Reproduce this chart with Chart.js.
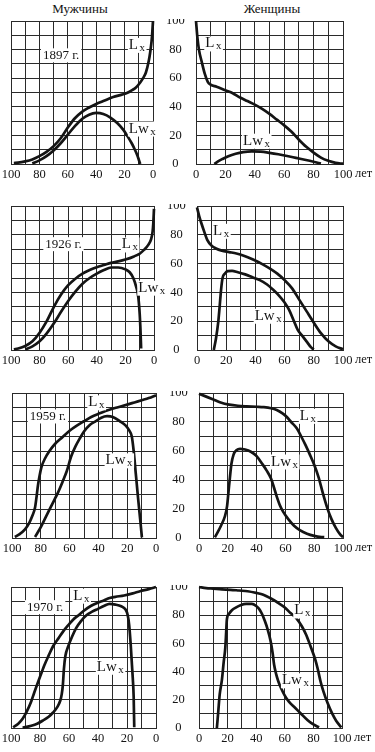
<!DOCTYPE html>
<html><head><meta charset="utf-8">
<script src="https://cdn.jsdelivr.net/npm/chart.js@4"></script>
<style>
html,body{margin:0;padding:0;background:#fff;}
body{width:375px;height:752px;position:relative;overflow:hidden;font-family:"Liberation Serif",serif;}
.ttl{position:absolute;font-size:13px;color:#111;transform:translateX(-50%);white-space:nowrap;line-height:14px;}
canvas{position:absolute;}
</style></head><body>
<div class="ttl" style="left:80px;top:2px">Мужчины</div>
<div class="ttl" style="left:272px;top:2px">Женщины</div>
<script>
// ---- tick labels / categories ----
const ageTicks = [0, 20, 40, 60, 80, 100];
const valueTicks = [0, 20, 40, 60, 80, 100];
const years = ['1897 г.', '1926 г.', '1959 г.', '1970 г.'];
const unitLabel = 'лет';

// ---- series: [age, value] ----
const men1897Lx = [[0,100],[0.5,92],[1,86],[2,78],[3,72],[5,64],[7,60],[9,57],[12,53.5],[15,51.5],[18,49.8],[22,48.5],[28,46.8],[35,44],[40,42],[45,39.5],[50,36.5],[55,32],[60,25.5],[65,18],[70,12.5],[75,8.5],[80,5.5],[85,3.2],[90,1.8],[95,0.9],[98,0.7]];
const men1897Lw = [[9,0],[10,3],[11,6],[13,10.5],[15,14.5],[18,19.5],[21,24],[25,28.5],[30,32.5],[35,35],[40,35.7],[45,34.5],[50,31.5],[55,26.5],[60,20.5],[65,14.5],[70,9.5],[75,5.5],[80,2.5],[85,0.3]];
const women1897Lx = [[0,100],[1,88],[2,80],[4,71],[6,63],[8,57.5],[10,55.5],[14,54],[20,51.5],[25,49.5],[30,46.5],[35,44],[40,41.5],[45,38.5],[50,35],[55,31],[60,27],[65,22.5],[70,17],[75,12],[80,8],[85,4.5],[90,2.2],[95,0.8],[100,0.2]];
const women1897Lw = [[12.5,0],[15,1.8],[18,3.5],[22,5.5],[27,7.2],[32,8.3],[38,8.8],[44,8.6],[50,7.8],[56,6.8],[62,5.6],[68,4.3],[74,3],[80,1.6],[85,0.3]];

const men1926Lx = [[0,98],[0.5,88],[1,82],[2,77],[4,73],[7,69.5],[10,67],[14,65],[20,62.8],[25,61.5],[30,60.5],[35,59],[40,57.5],[45,55.5],[50,53],[55,49.5],[60,45],[65,38.5],[70,30],[75,20],[80,12],[85,6],[90,2.8],[95,1],[98,0.4]];
const men1926Lw = [[9,1],[9.5,15],[10,25],[11,37],[12.5,44],[14.5,50],[17,54],[20,56],[25,57.3],[30,57.3],[35,55.5],[40,53],[45,50],[50,46],[55,40.5],[60,34],[65,26.5],[70,18.5],[75,11.5],[80,6],[85,2.5],[90,0.5]];
const women1926Lx = [[0,99],[1.5,93],[3,88],[5,82],[7,76.5],[10,72.5],[13,70.5],[17,69],[22,68],[27,67],[32,65.5],[38,63],[45,59.5],[50,56.5],[55,53],[60,48.5],[65,43],[70,35],[75,27],[80,19],[85,11.5],[90,6],[95,2.5],[100,0.5]];
const women1926Lw = [[11.5,0],[13,8],[14.5,19],[15.5,30],[16.5,42],[17.5,50],[19,53],[21,54.8],[24,55],[28,54],[33,52.5],[38,50.5],[43,48.5],[48,45.5],[52,42],[56,38],[60,33],[63,28],[66,21],[69,14],[72,10],[75,6],[78,2],[80,0.3]];

const men1959Lx = [[0,98.5],[5,96.5],[10,95],[15,93.5],[20,92],[27,90],[33,88.3],[39,86],[45,83.5],[50,80.5],[55,77.5],[60,74],[65,69.5],[70,65],[74,60],[77,55],[79.5,49],[81,42],[82,36],[83,28],[84,21],[86,15],[88,10.5],[91,6],[95,2.5],[98,0.7]];
const men1959Lw = [[9.8,0.5],[11,13],[12.5,28],[14,44],[15.5,60],[16.8,70],[18.5,74],[21,77.5],[25,80.5],[30,83.5],[34,84],[38,83],[42,80.5],[46,78],[50,73.5],[53,68.5],[56,63],[59,56],[62,46],[65,38.5],[68,31.5],[71,25.5],[74,19.5],[77,13.5],[80,7.5],[84,0.7]];
const women1959Lx = [[0,99.5],[5,97.5],[10,95.5],[15,93.5],[21,92],[27,91.2],[33,90.8],[40,90.5],[45,90.2],[50,89.5],[54,88.3],[58,86],[61,83.5],[64,80],[68,75.5],[71,70],[74,64],[77,57.5],[80,50.5],[83,42],[86,31],[89,21],[92,13],[95,7],[98,2.5],[100,0.5]];
const women1959Lw = [[11,0.5],[13,4],[15.5,9],[18,15],[19.5,22],[20.5,32],[21.5,42],[22.5,51],[24,57.5],[26,60.5],[28.5,61.5],[32,61],[36,59.5],[40,56.5],[44,51],[47,46.5],[50,41],[52,35],[54,28.5],[56,23],[58.5,18],[62,13],[66,8.5],[70,5.5],[75,3],[80,1.5],[85,0.7],[87,0.6]];

const men1970Lx = [[0,100],[5,98.5],[11,97],[16,95.5],[22,94],[28,93],[32,92.2],[36,90.5],[41,88.5],[45,86.5],[50,83],[54,79.5],[57,77],[60,73.5],[64,68.5],[67,64],[71,58],[74,51.5],[77,44.5],[79,39],[81,33.5],[84,25],[86,19],[89,12],[92,6.5],[95,3],[98.5,0.5]];
const men1970Lw = [[15,0.5],[15.4,22],[16,35],[16.6,45],[17.5,60],[18.5,73],[19.5,80],[21,84],[24,86.3],[28,87.5],[32,88],[36,86.5],[40,84.5],[44,82.5],[48,80],[52,75.5],[55,71],[58,64.5],[60.5,58],[62.5,51],[63.5,42],[64.2,31],[65,24],[66,19.5],[68,15],[71,11],[74,8],[78,5.3],[82,3],[86,1.6],[92,0.2]];
const women1970Lx = [[0,100],[5,99.2],[10,98.8],[16,98.3],[22,98],[28,97.5],[34,97],[40,95.8],[45,94.5],[50,92],[55,89],[60,85.5],[64,81.5],[68,78],[72,72],[75,66],[78,58],[81,49.5],[83,42],[85,33],[87,26],[90,17.5],[93,10.5],[96,5],[99.5,0.5]];
const women1970Lw = [[12.5,0],[13.5,12],[14.5,24],[16,34],[17.3,47],[18.4,57],[19,68],[19.5,77],[21,81],[23,83.5],[26,85.5],[29,87],[33,88],[37,88],[40,86.5],[42,84.5],[44,81],[46,76],[48,70],[50,62],[51.5,53],[52.5,45],[54,38],[55.5,33],[57.5,28],[60,23],[63,18.5],[67,14.5],[71,10.5],[76,5.5],[80,2.5],[84,0.5]];

// ---- layout (pixels) ----
const rowGeom = [
  {plotTop:21,  plotBottom:164, men:[11,153], women:[196,343]},
  {plotTop:206, plotBottom:350, men:[11,154], women:[197,343]},
  {plotTop:393, plotBottom:538, men:[12,156], women:[199,343]},
  {plotTop:587, plotBottom:728, men:[11,156], women:[199,342]}
];
const seriesByRow = [
  {men:[men1897Lx, men1897Lw], women:[women1897Lx, women1897Lw]},
  {men:[men1926Lx, men1926Lw], women:[women1926Lx, women1926Lw]},
  {men:[men1959Lx, men1959Lw], women:[women1959Lx, women1959Lw]},
  {men:[men1970Lx, men1970Lw], women:[women1970Lx, women1970Lw]}
];
// label anchors in data coordinates (age of left edge, value)
const labelAnchors = [
  {year:[77.5,76], menLx:[17,80.5], menLw:[17,22], womLx:[6.3,81.5], womLw:[32,13.5]},
  {year:[76,73.5], menLx:[22.5,70.5], menLw:[11,40.5], womLx:[11,80], womLw:[39.5,21]},
  {year:[87.7,83.8], menLx:[47,90.8], menLw:[35,50.8], womLx:[70,81.5], womLw:[50,50]},
  {year:[89,85.7], menLx:[57,91], menLw:[40.8,40.6], womLx:[66.6,80.5], womLw:[58,31]}
];

const INK = '#141414';
const GRID = '#2a2a2a';
const FONT = '"Liberation Serif", "Times New Roman", serif';

const labelPlugin = {
  id: 'curveLabels',
  afterDatasetsDraw(chart, args, opts) {
    const {ctx, chartArea} = chart;
    const x = chart.scales.x, y = chart.scales.y;
    ctx.save();
    (opts.items || []).forEach(it => {
      const px = x.getPixelForValue(it.x), py = y.getPixelForValue(it.y);
      ctx.textAlign = 'left';
      if (it.sub) {
        ctx.font = '15px ' + FONT;
        const w = ctx.measureText(it.text).width;
        ctx.font = '11px ' + FONT;
        const ws = ctx.measureText(it.sub).width;
        ctx.fillStyle = '#fff';
        ctx.fillRect(px - 1, py - 11, w + ws + 4, 15);
        ctx.fillStyle = INK;
        ctx.font = '15px ' + FONT;
        ctx.textBaseline = 'alphabetic';
        ctx.fillText(it.text, px, py);
        ctx.font = '11px ' + FONT;
        ctx.fillText(it.sub, px + w + 1.5, py + 2);
      } else {
        ctx.font = '13px ' + FONT;
        const w = ctx.measureText(it.text).width;
        ctx.fillStyle = '#fff';
        ctx.fillRect(px - 2, py - 7, w + 4, 14);
        ctx.fillStyle = INK;
        ctx.textBaseline = 'middle';
        ctx.fillText(it.text, px, py);
      }
    });
    if (opts.unit) {
      ctx.fillStyle = INK;
      ctx.font = '12.5px ' + FONT;
      ctx.textAlign = 'left';
      ctx.textBaseline = 'middle';
      ctx.fillText(opts.unit, chartArea.right + 12, chartArea.bottom + 10);
    }
    ctx.restore();
  }
};

function makeChart(left, top, width, height, geom, isMen, series, items) {
  const c = document.createElement('canvas');
  c.width = width; c.height = height;
  c.style.left = left + 'px'; c.style.top = top + 'px';
  c.style.width = width + 'px'; c.style.height = height + 'px';
  document.body.appendChild(c);
  const [pl, pr] = isMen ? geom.men : geom.women;
  const padLeft = pl - left;
  const yWidth = isMen ? (left + width - pr) : 0;
  const padRight = isMen ? 0 : (left + width - pr);
  const ds = series.map(s => ({
    data: s.map(p => ({x: p[0], y: p[1]})),
    borderColor: INK, borderWidth: 2.7, pointRadius: 0, fill: false,
    cubicInterpolationMode: 'monotone', clip: 4
  }));
  return new Chart(c, {
    type: 'line',
    data: {datasets: ds},
    options: {
      responsive: false, animation: false, devicePixelRatio: 1,
      layout: {padding: {left: padLeft, right: padRight, top: 2, bottom: 0}},
      plugins: {legend: {display: false}, tooltip: {enabled: false},
        curveLabels: {items: items, unit: isMen ? null : unitLabel}},
      scales: {
        x: {
          type: 'linear', min: 0, max: 100, reverse: isMen,
          afterFit: s => { s.height = 20; s.paddingLeft = 0; s.paddingRight = 0; s.paddingTop = 0; s.paddingBottom = 0; },
          grid: {color: GRID, lineWidth: 1, drawTicks: false},
          border: {color: GRID, width: 1},
          ticks: {stepSize: 10, autoSkip: false, maxRotation: 0, padding: 3, color: INK,
            font: {family: FONT, size: 12.5},
            callback: v => ageTicks.includes(v) ? String(v) : ''}
        },
        y: {
          type: 'linear', min: 0, max: 100, position: isMen ? 'right' : 'left',
          afterFit: s => { s.width = yWidth; s.paddingTop = 0; s.paddingBottom = 0; s.paddingLeft = 0; s.paddingRight = 0; },
          grid: {color: GRID, lineWidth: 1, drawTicks: false},
          border: {color: GRID, width: 1},
          ticks: {display: isMen, stepSize: 10, autoSkip: false, padding: 13, crossAlign: 'center', color: INK,
            font: {family: FONT, size: 12.5},
            callback: v => valueTicks.includes(v) ? String(v) : ''}
        }
      }
    },
    plugins: [labelPlugin]
  });
}

rowGeom.forEach((g, i) => {
  const top = g.plotTop - 2;
  const h = g.plotBottom - top + 20;
  const a = labelAnchors[i];
  makeChart(0, top, 200, h, g, true, seriesByRow[i].men, [
    {text: years[i], x: a.year[0], y: a.year[1]},
    {text: 'L', sub: 'x', x: a.menLx[0], y: a.menLx[1]},
    {text: 'Lw', sub: 'x', x: a.menLw[0], y: a.menLw[1]}
  ]);
  makeChart(180, top, 195, h, g, false, seriesByRow[i].women, [
    {text: 'L', sub: 'x', x: a.womLx[0], y: a.womLx[1]},
    {text: 'Lw', sub: 'x', x: a.womLw[0], y: a.womLw[1]}
  ]);
});
</script>
</body></html>
